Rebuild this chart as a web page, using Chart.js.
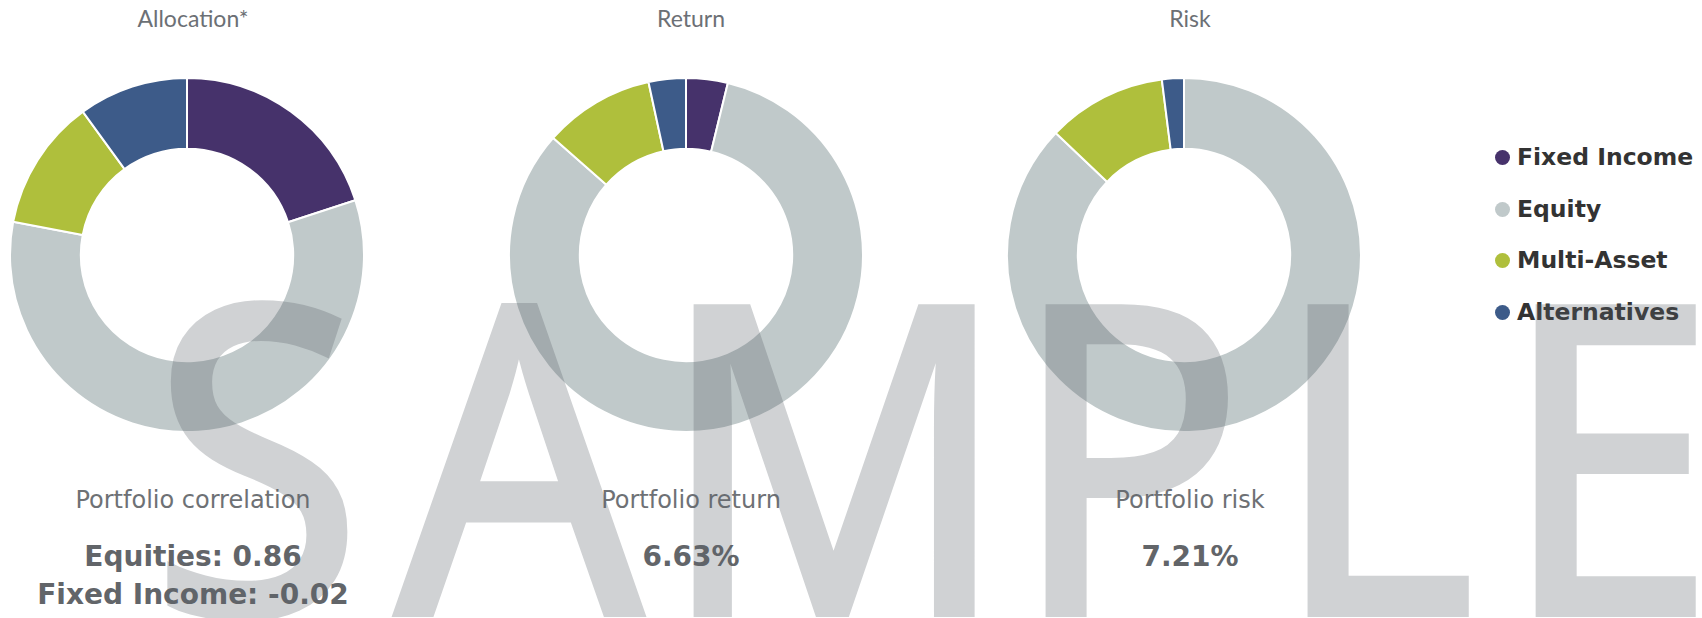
<!DOCTYPE html>
<html>
<head>
<meta charset="utf-8">
<script src="https://cdn.jsdelivr.net/npm/chart.js@4/dist/chart.umd.min.js"></script>
<style>
  html, body { margin: 0; padding: 0; background: #fff; }
  body { width: 1702px; height: 618px; position: relative; overflow: hidden; font-family: "DejaVu Sans", sans-serif; }
  .pie { position: absolute; top: 77px; width: 356px; height: 356px; }
  .title { position: absolute; top: 7px; width: 300px; margin-left: -150px; text-align: center;
           font-family: Lato, sans-serif; font-size: 23px; line-height: 1; color: #6c7075; }
  .label { position: absolute; top: 488px; width: 400px; margin-left: -200px; text-align: center;
           font-size: 24px; line-height: 1; color: #6e7175; }
  .value { position: absolute; top: 538px; width: 400px; margin-left: -200px; text-align: center;
           font-weight: bold; font-size: 28px; line-height: 38px; color: #626569; }
  .legend-item { position: absolute; left: 1517px; font-weight: bold; font-size: 23.5px; line-height: 1; color: #333; white-space: nowrap; }
  .legend-item i { position: absolute; left: -22px; top: 4px; width: 15px; height: 15px; border-radius: 50%; }
  #watermark { position: absolute; left: 0; top: 0; pointer-events: none; }
</style>
</head>
<body>
<div id="page"></div>
<svg id="watermark" width="1702" height="618">
  <g opacity="0.286" fill="rgb(91,98,105)" stroke="rgb(91,98,105)" stroke-width="7" stroke-linejoin="miter">
    <text x="167.6 440.2 732.7 1123.8 1414.9 1668.3" y="613.5" transform="scale(0.9,1)"
          font-family="Noto Sans" font-size="428">SAMPLE</text>
  </g>
</svg>
<script>
// Daten
const categories = ['Fixed Income', 'Equity', 'Multi-Asset', 'Alternatives'];
const colors = ['#46326b', '#c0c9ca', '#afbf3c', '#3d5b89'];
const chartTitles = ['Allocation*', 'Return', 'Risk'];
const allocation = [20, 58, 12, 10];
const returnShare = [3.8, 82.7, 10.1, 3.4];
const riskShare = [0, 87.1, 10.9, 2.0];
const statLabels = ['Portfolio correlation', 'Portfolio return', 'Portfolio risk'];
const statValues = [['Equities: 0.86', 'Fixed Income: -0.02'], ['6.63%'], ['7.21%']];

const series = [allocation, returnShare, riskShare];
const pieCenters = [187, 686, 1184];
const textCenters = [193, 691, 1190];

const page = document.getElementById('page');

series.forEach((values, i) => {
    const box = document.createElement('div');
    box.className = 'pie';
    box.style.left = (pieCenters[i] - 178) + 'px';
    const canvas = document.createElement('canvas');
    canvas.width = 356;
    canvas.height = 356;
    box.appendChild(canvas);
    page.appendChild(box);

    new Chart(canvas.getContext('2d'), {
        type: 'doughnut',
        data: {
            labels: categories,
            datasets: [{
                data: values,
                backgroundColor: colors,
                borderColor: '#fff',
                borderWidth: 2
            }]
        },
        options: {
            responsive: false,
            animation: false,
            cutout: '60%',
            plugins: { legend: { display: false } }
        }
    });

    const title = document.createElement('div');
    title.className = 'title';
    title.style.left = textCenters[i] + 'px';
    title.textContent = chartTitles[i];
    page.appendChild(title);

    const label = document.createElement('div');
    label.className = 'label';
    label.style.left = textCenters[i] + 'px';
    label.textContent = statLabels[i];
    page.appendChild(label);

    const value = document.createElement('div');
    value.className = 'value';
    value.style.left = textCenters[i] + 'px';
    value.innerHTML = statValues[i].join('<br>');
    page.appendChild(value);
});

// Legende
categories.forEach((name, i) => {
    const item = document.createElement('div');
    item.className = 'legend-item';
    item.style.top = (146 + i * 51.7) + 'px';
    const dot = document.createElement('i');
    dot.style.background = colors[i];
    item.appendChild(dot);
    item.appendChild(document.createTextNode(name));
    page.appendChild(item);
});
</script>
</body>
</html>
